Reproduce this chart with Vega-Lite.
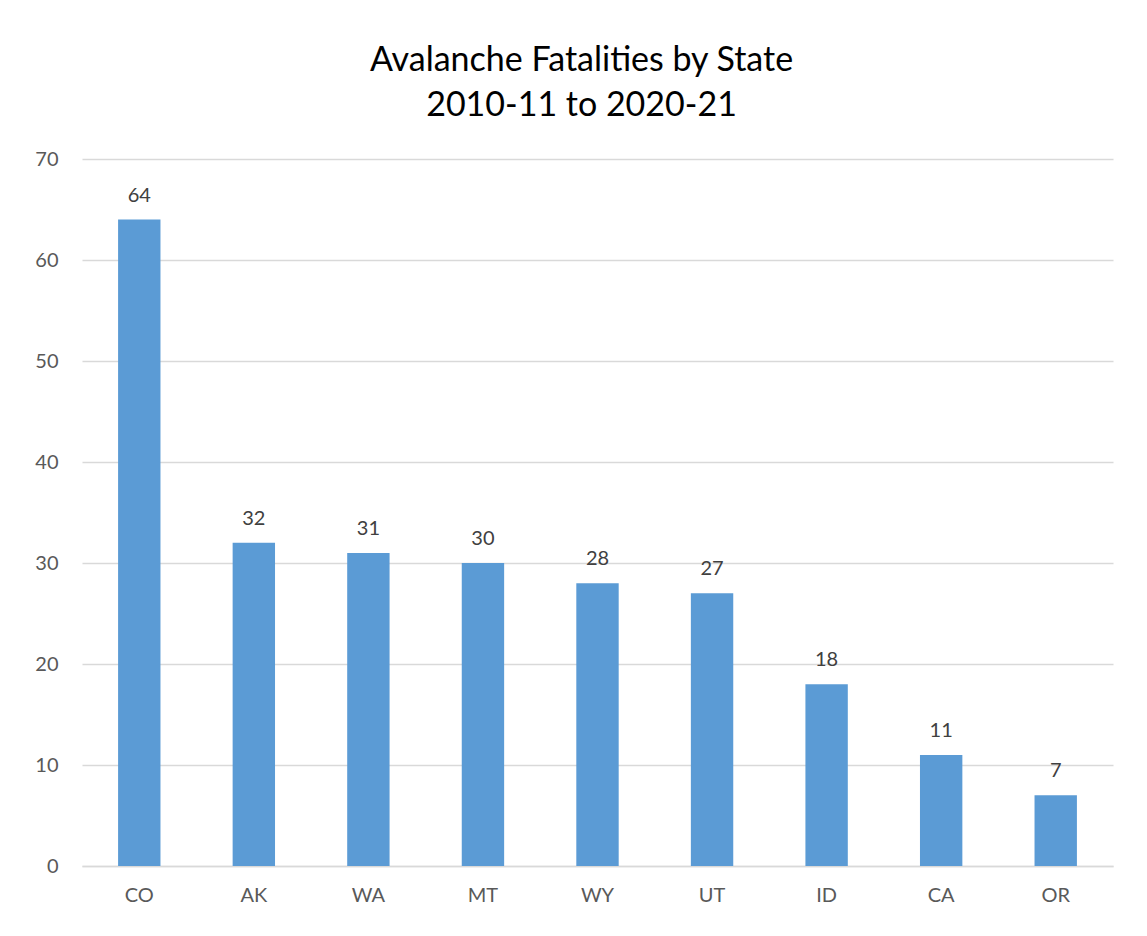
{
  "$schema": "https://vega.github.io/schema/vega-lite/v6.json",
  "width": 1031,
  "height": 707,
  "autosize": {"type": "none"},
  "padding": {"left": 82, "top": 159, "right": 34, "bottom": 70},
  "background": "white",
  "title": {
    "text": ["Avalanche Fatalities by State", "2010-11 to 2020-21"],
    "font": "Lato",
    "fontSize": 34,
    "fontWeight": "normal",
    "color": "#000000",
    "anchor": "middle",
    "frame": "group",
    "dx": -16,
    "offset": 26,
    "lineHeight": 45
  },
  "data": {
    "values": [
      {"state": "CO", "fatalities": 64},
      {"state": "AK", "fatalities": 32},
      {"state": "WA", "fatalities": 31},
      {"state": "MT", "fatalities": 30},
      {"state": "WY", "fatalities": 28},
      {"state": "UT", "fatalities": 27},
      {"state": "ID", "fatalities": 18},
      {"state": "CA", "fatalities": 11},
      {"state": "OR", "fatalities": 7}
    ]
  },
  "encoding": {
    "x": {
      "field": "state",
      "type": "nominal",
      "sort": null,
      "scale": {"paddingInner": 0.63, "paddingOuter": 0.315},
      "axis": {
        "title": null,
        "labelAngle": 0,
        "labelFont": "Lato",
        "labelFontSize": 20,
        "labelColor": "#595959",
        "labelPadding": 19,
        "ticks": false,
        "domainColor": "#d9d9d9",
        "domainWidth": 1.5
      }
    },
    "y": {
      "field": "fatalities",
      "type": "quantitative",
      "scale": {"domain": [0, 70]},
      "axis": {
        "title": null,
        "values": [0, 10, 20, 30, 40, 50, 60, 70],
        "labelFont": "Lato",
        "labelFontSize": 20,
        "labelColor": "#595959",
        "labelPadding": 24,
        "ticks": false,
        "domain": false,
        "gridColor": "#d9d9d9",
        "gridWidth": 1.5
      }
    }
  },
  "layer": [
    {"mark": {"type": "bar", "color": "#5b9bd5"}},
    {
      "mark": {
        "type": "text",
        "baseline": "bottom",
        "dy": -14,
        "font": "Lato",
        "fontSize": 20,
        "color": "#404040"
      },
      "encoding": {"text": {"field": "fatalities", "type": "quantitative"}}
    }
  ],
  "config": {"view": {"stroke": null}}
}
